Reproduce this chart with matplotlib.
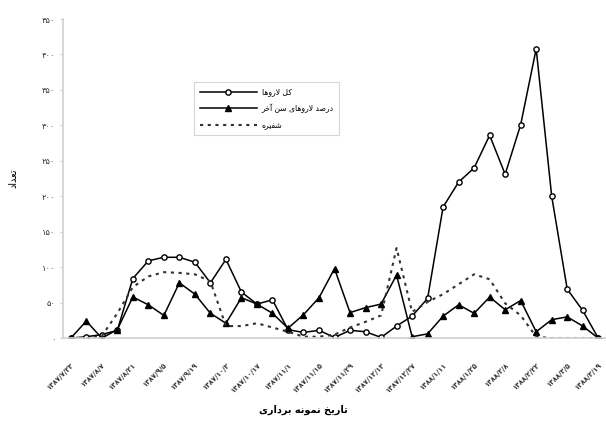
import matplotlib
matplotlib.use("Agg")
import matplotlib.pyplot as plt

# تاریخ نمونه برداری (هر دو هفته یک برچسب)
dates = ["1387/7/23", "1387/8/7", "1387/8/21", "1387/9/5", "1387/9/19",
         "1387/10/3", "1387/10/17", "1387/11/1", "1387/11/15", "1387/11/29",
         "1387/12/13", "1387/12/27", "1388/1/11", "1388/1/25", "1388/2/8",
         "1388/2/22", "1388/3/5", "1388/3/19"]

# کل لاروها
total = [0, 2, 5, 11, 84, 109, 114, 114, 107, 78, 111, 65, 48, 54, 12, 8, 11,
         1, 11, 9, 1, 17, 31, 56, 185, 220, 240, 286, 231, 301, 408, 200, 69,
         39, 0]
# درصد لاروهای سن آخر
last_instar = [0, 24, 0, 12, 58, 47, 32, 78, 62, 35, 21, 57, 48, 35, 14, 33,
               57, 98, 36, 43, 48, 89, 2, 6, 31, 47, 35, 58, 40, 53, 9, 26,
               30, 17, 0]
# شفیره
pupa = [0, 0, 3, 35, 72, 87, 93, 92, 90, 80, 17, 17, 21, 15, 9, 2, 2, 5, 15,
        23, 32, 127, 37, 51, 62, 76, 90, 83, 49, 32, 2, 0, 0, 0, 0]

yticks = [0, 50, 100, 150, 200, 250, 300, 350, 400, 450]

FA = str.maketrans("0123456789", "۰۱۲۳۴۵۶۷۸۹")

# فرم‌های نمایشی حروف: (جدا، پایانی، آغازی، میانی)
FORMS = {
    "ا": ("\uFE8D", "\uFE8E", None, None),
    "آ": ("\uFE81", "\uFE82", None, None),
    "ب": ("\uFE8F", "\uFE90", "\uFE91", "\uFE92"),
    "ت": ("\uFE95", "\uFE96", "\uFE97", "\uFE98"),
    "خ": ("\uFEA5", "\uFEA6", "\uFEA7", "\uFEA8"),
    "د": ("\uFEA9", "\uFEAA", None, None),
    "ر": ("\uFEAD", "\uFEAE", None, None),
    "س": ("\uFEB1", "\uFEB2", "\uFEB3", "\uFEB4"),
    "ش": ("\uFEB5", "\uFEB6", "\uFEB7", "\uFEB8"),
    "ص": ("\uFEB9", "\uFEBA", "\uFEBB", "\uFEBC"),
    "ع": ("\uFEC9", "\uFECA", "\uFECB", "\uFECC"),
    "ف": ("\uFED1", "\uFED2", "\uFED3", "\uFED4"),
    "ک": ("\uFB8E", "\uFB8F", "\uFB90", "\uFB91"),
    "ل": ("\uFEDD", "\uFEDE", "\uFEDF", "\uFEE0"),
    "م": ("\uFEE1", "\uFEE2", "\uFEE3", "\uFEE4"),
    "ن": ("\uFEE5", "\uFEE6", "\uFEE7", "\uFEE8"),
    "ه": ("\uFEE9", "\uFEEA", "\uFEEB", "\uFEEC"),
    "و": ("\uFEED", "\uFEEE", None, None),
    "ی": ("\uFBFC", "\uFBFD", "\uFBFE", "\uFBFF"),
}
LAM_ALEF = {"ا": ("\uFEFB", "\uFEFC"), "آ": ("\uFEF5", "\uFEF6")}


def fa(text):
    out = []
    i = 0
    while i < len(text):
        c = text[i]
        prev = text[i - 1] if i > 0 else None
        joins_prev = (c in FORMS and prev in FORMS
                      and FORMS[prev][2] is not None)
        if c == "ل" and i + 1 < len(text) and text[i + 1] in LAM_ALEF:
            out.append(LAM_ALEF[text[i + 1]][1 if joins_prev else 0])
            i += 2
            continue
        if c not in FORMS:
            out.append(c)
            i += 1
            continue
        nxt = text[i + 1] if i + 1 < len(text) else None
        joins_next = FORMS[c][2] is not None and nxt in FORMS
        f = FORMS[c]
        if joins_prev and joins_next:
            out.append(f[3])
        elif joins_prev:
            out.append(f[1])
        elif joins_next:
            out.append(f[2])
        else:
            out.append(f[0])
        i += 1
    return "".join(out)[::-1]


plt.rcParams["font.family"] = ["DejaVu Sans"]

fig = plt.figure(figsize=(6.06, 4.42), dpi=100)
ax = fig.add_axes([0.104, 0.235, 0.896, 0.722])

x = list(range(len(total)))
ax.plot(x, total, color="black", lw=1.1, marker="o", ms=3.8,
        mfc="white", mec="black", mew=1.0, label=fa("کل لاروها"))
ax.plot(x, last_instar, color="black", lw=1.1, marker="^", ms=5,
        mfc="black", mec="black", label=fa("درصد لاروهای سن آخر"))
ax.plot(x, pupa, color="#333333", lw=1.5, ls=(0, (1.5, 2.2)),
        label=fa("شفیره"))

ax.set_xlim(-0.5, len(total) - 0.5)
ax.set_ylim(0, 450)
ax.set_yticks(yticks)
ax.set_yticklabels([str(v).translate(FA) for v in yticks], fontsize=6,
                   color="#333333")
ax.set_xticks(range(0, len(total), 2))
ax.set_xticklabels([d.translate(FA) for d in dates], rotation=45,
                   ha="right", va="top", rotation_mode="anchor",
                   fontsize=5, color="#333333", fontweight="bold")
ax.tick_params(axis="x", length=0, pad=17)
ax.tick_params(axis="y", length=2.5, color="#cccccc", pad=3)

for s in ["top", "right"]:
    ax.spines[s].set_visible(False)
for s in ["left", "bottom"]:
    ax.spines[s].set_color("#d0d0d0")
    ax.spines[s].set_linewidth(1.2)

ax.set_ylabel(fa("تعداد"), fontsize=7, labelpad=17)
fig.text(0.5, 0.072, fa("تاریخ نمونه برداری"), ha="center", va="center",
         fontsize=7, fontweight="bold")

leg = ax.legend(loc="upper left", bbox_to_anchor=(0.235, 0.815),
                fontsize=5.5, frameon=True, fancybox=False,
                edgecolor="#cccccc", handlelength=7.5, borderpad=0.7,
                labelspacing=1.0, handletextpad=0.6)
leg.get_frame().set_linewidth(0.8)

fig.savefig("out.png", dpi=100)
